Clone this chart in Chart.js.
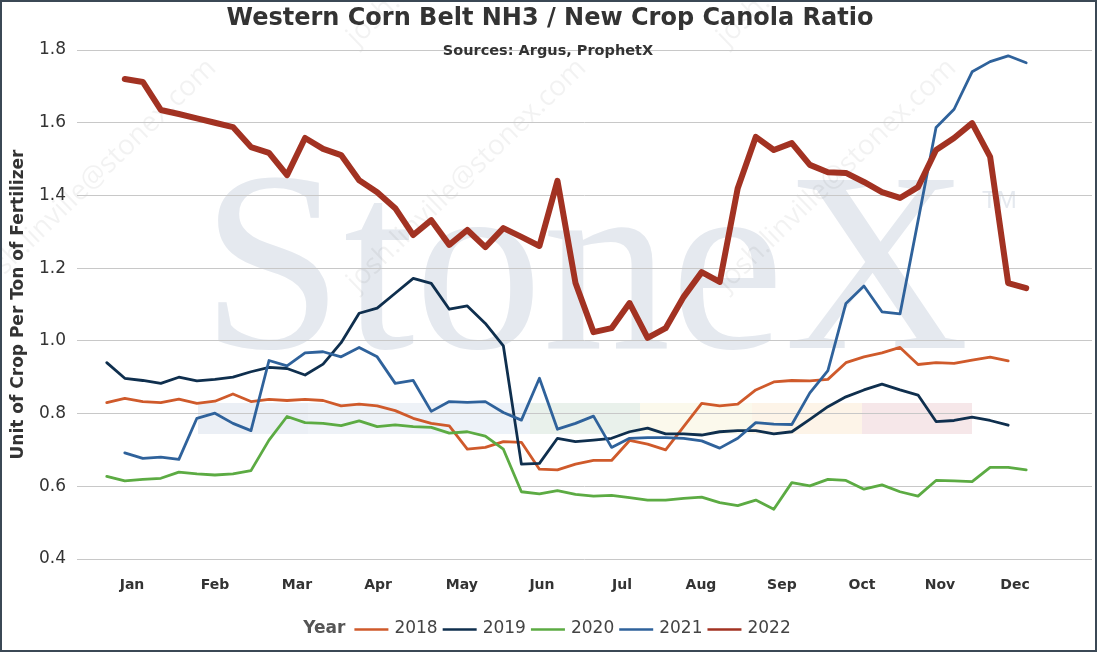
<!DOCTYPE html>
<html><head><meta charset="utf-8">
<script src="https://cdn.jsdelivr.net/npm/chart.js@4.4.1/dist/chart.umd.min.js"></script>
<style>
html,body{margin:0;padding:0;background:#fff;}
#wrap{position:relative;width:1097px;height:652px;}
canvas{display:block;}
</style></head><body>
<div id="wrap"><canvas id="c" width="1097" height="652"></canvas></div>
<script>
const chartTitle = 'Western Corn Belt NH3 / New Crop Canola Ratio';
const chartSubtitle = 'Sources: Argus, ProphetX';
const yAxisTitle = 'Unit of Crop Per Ton of Fertilizer';
const legendTitle = 'Year';
const watermarkBrand = 'StoneX';
const watermarkEmail = 'josh.linville@stonex.com';

const weeks = [1,2,3,4,5,6,7,8,9,10,11,12,13,14,15,16,17,18,19,20,21,22,23,24,25,26,
               27,28,29,30,31,32,33,34,35,36,37,38,39,40,41,42,43,44,45,46,47,48,49,50,51,52];
const monthLabels = ['Jan','Feb','Mar','Apr','May','Jun','Jul','Aug','Sep','Oct','Nov','Dec'];
const monthTickWeeks = [2.40, 7.01, 11.55, 16.05, 20.70, 25.14, 29.58, 33.96, 38.45, 42.89, 47.22, 51.38];
const seriesNames = ['2018','2019','2020','2021','2022'];

const y2018 = [0.830,0.842,0.833,0.830,0.840,0.828,0.834,0.854,0.833,0.839,0.836,0.839,0.836,
               0.821,0.826,0.821,0.808,0.787,0.773,0.766,0.702,0.707,0.723,0.721,0.647,0.645,
               0.661,0.671,0.671,0.726,0.716,0.700,0.764,0.828,0.821,0.826,0.865,0.887,0.891,
               0.890,0.894,0.940,0.956,0.967,0.982,0.935,0.940,0.938,0.947,0.955,0.945,null];
const y2019 = [0.940,0.897,0.891,0.883,0.900,0.890,0.894,0.900,0.915,0.927,0.924,0.906,0.936,
               0.995,1.076,1.090,1.131,1.172,1.158,1.087,1.096,1.048,0.986,0.661,0.663,0.732,
               0.723,0.727,0.732,0.750,0.760,0.744,0.744,0.741,0.750,0.753,0.753,0.744,0.750,
               0.784,0.819,0.846,0.865,0.881,0.865,0.851,0.778,0.781,0.790,0.781,0.768,null];
const y2020 = [0.627,0.615,0.619,0.622,0.639,0.634,0.631,0.634,0.643,0.727,0.792,0.775,0.773,
               0.767,0.780,0.764,0.769,0.764,0.762,0.746,0.750,0.738,0.702,0.585,0.579,0.588,
               0.578,0.573,0.575,0.569,0.562,0.562,0.567,0.570,0.555,0.547,0.562,0.537,0.610,
               0.601,0.619,0.616,0.592,0.604,0.585,0.573,0.616,0.615,0.613,0.652,0.652,0.645];
const y2021 = [null,0.692,0.677,0.680,0.674,0.787,0.801,0.773,0.753,0.946,0.931,0.967,0.970,
               0.956,0.982,0.956,0.883,0.891,0.806,0.833,0.831,0.833,0.803,0.782,0.897,0.757,
               0.773,0.793,0.707,0.732,0.734,0.734,0.732,0.725,0.705,0.732,0.775,0.771,0.770,
               0.857,0.918,1.103,1.151,1.080,1.074,1.330,1.587,1.637,1.740,1.768,1.784,1.765];
const y2022 = [null,1.720,1.712,1.635,1.624,1.612,1.600,1.588,1.533,1.517,1.456,1.558,1.528,
               1.511,1.442,1.409,1.365,1.291,1.332,1.264,1.305,1.258,1.310,1.286,1.261,1.440,
               1.159,1.024,1.035,1.104,1.008,1.035,1.121,1.189,1.162,1.420,1.561,1.525,1.544,
               1.484,1.464,1.462,1.437,1.409,1.393,1.423,1.525,1.558,1.599,1.506,1.159,1.145];

const seriesValues = [y2018, y2019, y2020, y2021, y2022];
const seriesColors = ['#cf5a2b', '#0f2f4e', '#5cab43', '#2f629b', '#a23222'];
const seriesWidths = [2.8, 2.8, 2.8, 2.8, 6];

const FONT = '"DejaVu Sans", Verdana, sans-serif';

const datasets = seriesNames.map((name, s) => ({
  label: name,
  data: weeks.map((w, i) => ({x: w, y: seriesValues[s][i]})),
  borderColor: seriesColors[s],
  backgroundColor: seriesColors[s],
  borderWidth: seriesWidths[s],
  pointRadius: 0,
  pointHoverRadius: 0,
  tension: 0,
  fill: false,
  spanGaps: false,
  borderJoinStyle: 'round',
  borderCapStyle: 'round',
  order: seriesNames.length - s
}));

const backgroundPlugin = {
  id: 'bgWatermark',
  beforeDraw(chart) {
    const ctx = chart.ctx;
    ctx.save();
    ctx.fillStyle = '#ffffff';
    ctx.fillRect(0, 0, chart.width, chart.height);
    const bands = [
      [198, 308, '#ebeff5'], [308, 420, '#eef2f7'], [420, 530, '#edf2f8'],
      [530, 640, '#e9f1eb'], [640, 752, '#fbf9ec'], [752, 862, '#fdf4e8'], [862, 972, '#f6e7e9']
    ];
    bands.forEach(b => { ctx.fillStyle = b[2]; ctx.fillRect(b[0], 403, b[1] - b[0], 31); });
    ctx.fillStyle = '#e5e9ef';
    ctx.font = '256px "Liberation Serif", "DejaVu Serif", serif';
    ctx.textBaseline = 'alphabetic';
    ctx.textAlign = 'left';
    ctx.fillText(watermarkBrand, 201, 348);
    ctx.font = '24px "Liberation Sans", sans-serif';
    ctx.fillText('TM', 982, 208);
    ctx.fillStyle = 'rgba(0,0,0,0.05)';
    ctx.font = '28px "Open Sans", "DejaVu Sans", sans-serif';
    const starts = [[-13, 292], [357, 292], [727, 292], [357, 47], [727, 47]];
    starts.forEach(p => {
      ctx.save();
      ctx.translate(p[0], p[1]);
      ctx.rotate(-44 * Math.PI / 180);
      ctx.fillText(watermarkEmail, 0, 0);
      ctx.restore();
    });
    ctx.restore();
  },
  afterDraw(chart) {
    const ctx = chart.ctx;
    ctx.save();
    ctx.fillStyle = '#333333';
    ctx.textAlign = 'center';
    ctx.textBaseline = 'middle';
    ctx.font = 'bold 24px ' + FONT;
    ctx.fillText(chartTitle, 550, 19);
    ctx.font = 'bold 14.5px ' + FONT;
    ctx.fillText(chartSubtitle, 548, 51);
    const ly = 629;
    ctx.textAlign = 'left';
    ctx.font = 'bold 17px ' + FONT;
    const titleW = ctx.measureText(legendTitle).width;
    ctx.font = '17px ' + FONT;
    const sw = 34, gap1 = 6, gap2 = 5, gapTitle = 9;
    let total = titleW + gapTitle;
    chart.data.datasets.forEach((d, i) => {
      total += sw + gap1 + ctx.measureText(d.label).width + (i < chart.data.datasets.length - 1 ? gap2 : 0);
    });
    let x = 547 - total / 2;
    ctx.font = 'bold 17px ' + FONT;
    ctx.fillStyle = '#555555';
    ctx.fillText(legendTitle, x, ly);
    x += titleW + gapTitle;
    ctx.font = '17px ' + FONT;
    chart.data.datasets.forEach((d) => {
      ctx.strokeStyle = d.borderColor;
      ctx.lineWidth = 2.5;
      ctx.beginPath();
      ctx.moveTo(x, ly + 0.5);
      ctx.lineTo(x + sw, ly + 0.5);
      ctx.stroke();
      x += sw + gap1;
      ctx.fillStyle = '#444444';
      ctx.fillText(d.label, x, ly);
      x += ctx.measureText(d.label).width + gap2;
    });
    ctx.strokeStyle = '#3b4855';
    ctx.lineWidth = 2;
    ctx.strokeRect(1, 1, chart.width - 2, chart.height - 2);
    ctx.restore();
  }
};

new Chart(document.getElementById('c'), {
  type: 'line',
  data: { datasets },
  plugins: [backgroundPlugin],
  options: {
    responsive: false,
    animation: false,
    events: [],
    layout: { padding: { top: 50, right: 5, bottom: 0, left: 0 } },
    plugins: {
      legend: { display: false },
      title: { display: false },
      tooltip: { enabled: false }
    },
    scales: {
      x: {
        type: 'linear',
        min: -0.65,
        max: 55.65,
        grid: { display: false, drawTicks: false },
        border: { display: false },
        afterBuildTicks: (scale) => { scale.ticks = monthTickWeeks.map(v => ({ value: v })); },
        afterFit: (scale) => { scale.height = 93; },
        ticks: {
          autoSkip: false,
          maxRotation: 0,
          padding: 18,
          color: '#333333',
          font: { family: FONT, size: 14, weight: 'bold' },
          callback: (v, i) => monthLabels[i]
        }
      },
      y: {
        min: 0.4,
        max: 1.8,
        grid: { color: '#c8c8c8', lineWidth: 1, drawTicks: false },
        border: { display: false },
        afterFit: (scale) => { scale.width = 77; },
        ticks: {
          stepSize: 0.2,
          padding: 11,
          color: '#333333',
          font: { family: FONT, size: 17 },
          callback: (v) => Number(v).toFixed(1)
        },
        title: {
          display: true,
          text: yAxisTitle,
          color: '#333333',
          font: { family: FONT, size: 17, weight: 'bold' },
          padding: { top: 8, bottom: 0 }
        }
      }
    }
  }
});
</script>
</body></html>
